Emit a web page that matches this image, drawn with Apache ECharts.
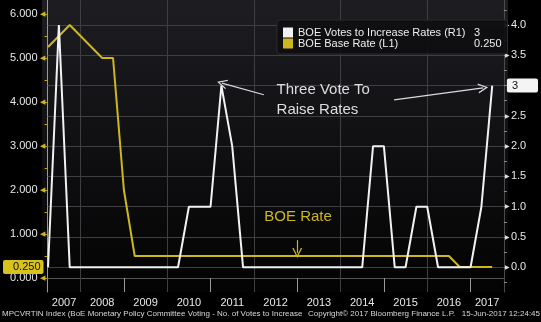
<!DOCTYPE html>
<html><head><meta charset="utf-8">
<script src="https://cdn.jsdelivr.net/npm/echarts@6/dist/echarts.min.js"></script>
<style>html,body{margin:0;padding:0;background:#000}#c{width:541px;height:322px}</style>
</head><body><div id="c"></div>
<script>
// ---- data (quarterly observations) ----
const quarterDates = [
  '2007-04-01','2007-07-01','2007-10-01',
  '2008-01-01','2008-04-01','2008-07-01','2008-10-01',
  '2009-01-01','2009-04-01','2009-07-01','2009-10-01',
  '2010-01-01','2010-04-01','2010-07-01','2010-10-01',
  '2011-01-01','2011-04-01','2011-07-01','2011-10-01',
  '2012-01-01','2012-04-01','2012-07-01','2012-10-01',
  '2013-01-01','2013-04-01','2013-07-01','2013-10-01',
  '2014-01-01','2014-04-01','2014-07-01','2014-10-01',
  '2015-01-01','2015-04-01','2015-07-01','2015-10-01',
  '2016-01-01','2016-04-01','2016-07-01','2016-10-01',
  '2017-01-01','2017-04-01','2017-07-01'
];
const votesToIncrease = [
  0,4,0,
  0,0,0,0,
  0,0,0,0,
  0,0,1,1,
  1,3,2,0,
  0,0,0,0,
  0,0,0,0,
  0,0,0,2,
  2,0,0,1,
  1,0,0,0,
  0,1,3
];
const baseRate = [
  5.25,5.5,5.75,
  5.5,5.25,5.0,5.0,
  2.0,0.5,0.5,0.5,
  0.5,0.5,0.5,0.5,
  0.5,0.5,0.5,0.5,
  0.5,0.5,0.5,0.5,
  0.5,0.5,0.5,0.5,
  0.5,0.5,0.5,0.5,
  0.5,0.5,0.5,0.5,
  0.5,0.5,0.5,0.25,
  0.25,0.25,0.25
];
const yearLabels = [2007,2008,2009,2010,2011,2012,2013,2014,2015,2016,2017];
const gridYears = [2008,2010,2012,2014,2016];
const leftLabels = [0,1,2,3,4,5,6];
const leftMinorTicks = [0,0.5,1,1.5,2,2.5,3,3.5,4,4.5,5,5.5,6];
const rightLabels = [0,0.5,1,1.5,2,2.5,3,3.5,4];
const rightMinorTicks = [-0.25,0,0.25,0.5,0.75,1,1.25,1.5,1.75,2,2.25,2.5,2.75,3,3.25,3.5,3.75,4,4.25];
const seriesNames = ['BOE Votes to Increase Rates (R1)', 'BOE Base Rate (L1)'];

// ---- helpers ----
const toYear = s => { const p = s.split('-').map(Number); return p[0] + (p[1]-1)/12; };
const X_MIN = 2007.238, X_MAX = 2017.769;
const L_MIN = -0.318, L_MAX = 6.318;
const R_MIN = -0.408, R_MAX = 4.413;
const EPS = 0.002;
const latestVotes = votesToIncrease[votesToIncrease.length-1];
const latestRate = baseRate[baseRate.length-1];
const yearCenters = yearLabels.map(y => (Math.max(y, X_MIN) + Math.min(y+1, X_MAX)) / 2);
const boundaries = yearLabels.filter(y => y > X_MIN && y < X_MAX);

const FONT = 'Liberation Sans, Arial, sans-serif';
const YEL = '#cdb71c';
const WHITE = '#f2f2f2';
const GRIDC = '#3e3e43';
const chevron = 'path://M0,10 L5,0 L10,10 L8.6,10 L5,2.6 L1.4,10 Z';
const GRID = {left: 42, right: 33, top: 0, bottom: 30};

const gridStyle = {color: GRIDC, width: 1, type: 'solid'};
const arrowStyle = {color: '#dcdcdc', width: 1.2, type: 'solid'};
const gridLineItems = rightLabels.map(v => [
  {coord: [X_MIN + EPS, v], lineStyle: gridStyle}, {coord: [X_MAX - EPS, v], lineStyle: gridStyle}
]).concat(gridYears.map(y => [
  {coord: [y, R_MIN + EPS], lineStyle: gridStyle}, {coord: [y, R_MAX - EPS], lineStyle: gridStyle}
]));
const arrowItems = [
  [{coord: [2012.229, 2.848], lineStyle: arrowStyle}, {coord: [2011.262, 3.04], symbol: chevron, symbolSize: 10, lineStyle: arrowStyle}],
  [{coord: [2015.236, 2.765], lineStyle: arrowStyle}, {coord: [2017.292, 2.963], symbol: chevron, symbolSize: 10, lineStyle: arrowStyle}]
];

const chart = echarts.init(document.getElementById('c'), null, {renderer: 'canvas'});
chart.setOption({
  backgroundColor: '#000',
  animation: false,
  textStyle: {fontFamily: FONT},
  grid: Object.assign({show: false}, GRID),
  legend: {
    left: 277, top: 20, orient: 'vertical',
    padding: [7, 6, 5, 6], itemGap: 0, itemWidth: 10, itemHeight: 10,
    icon: 'rect', backgroundColor: 'rgba(14,14,16,0.92)', borderColor: '#2c2c2c', borderWidth: 1, borderRadius: 3,
    data: seriesNames,
    formatter: name => '{n|' + name + '}{v|' + (name === seriesNames[0] ? String(latestVotes) : latestRate.toFixed(3)) + '}',
    textStyle: {
      color: '#eee', fontSize: 11, fontFamily: FONT,
      rich: {
        n: {width: 176, color: '#eee', fontSize: 11, fontFamily: FONT},
        v: {width: 27, color: '#eee', fontSize: 11, fontFamily: FONT}
      }
    },
    selectedMode: false
  },
  xAxis: [{
    type: 'value', min: X_MIN, max: X_MAX, position: 'bottom',
    axisLine: {show: true, lineStyle: {color: '#555', width: 1}},
    axisTick: {show: true, customValues: boundaries, length: 14, lineStyle: {color: '#9a9a9a'}},
    axisLabel: {customValues: yearCenters, formatter: v => String(Math.floor(v)), color: '#e8e8e8', fontSize: 11, margin: 5, fontFamily: FONT},
    splitLine: {show: false}
  }],
  yAxis: [{
    type: 'value', min: L_MIN, max: L_MAX, position: 'left',
    axisLine: {show: true, lineStyle: {color: '#b8a41a', width: 1}},
    axisTick: {show: true, customValues: leftMinorTicks, length: 3, inside: false, lineStyle: {color: '#b8a41a'}},
    axisLabel: {
      customValues: leftLabels, margin: 3, color: '#e8e8e8', fontSize: 11, fontFamily: FONT,
      formatter: v => '{v|' + v.toFixed(3) + '}{t|◀}',
      rich: {v: {color: '#e8e8e8', fontSize: 11, fontFamily: FONT, padding: [0, 2, 0, 0]}, t: {color: YEL, fontSize: 7}}
    },
    splitLine: {show: false}
  }, {
    type: 'value', min: R_MIN, max: R_MAX, position: 'right',
    axisLine: {show: true, lineStyle: {color: '#4a4a4a', width: 1}},
    axisTick: {show: true, customValues: rightMinorTicks, length: 3, lineStyle: {color: '#8a8a8a'}},
    axisLabel: {
      customValues: rightLabels.filter(v => v !== latestVotes), margin: 1, color: '#e8e8e8', fontSize: 11, fontFamily: FONT,
      formatter: v => '{t|▶}{v|' + v.toFixed(1) + '}',
      rich: {v: {color: '#e8e8e8', fontSize: 11, fontFamily: FONT, padding: [0, 0, 0, 1]}, t: {color: '#ddd', fontSize: 6}}
    },
    splitLine: {show: false}
  }, {
    type: 'value', min: L_MIN, max: L_MAX, position: 'left', z: 10,
    axisLine: {show: false}, axisTick: {show: false}, splitLine: {show: false},
    axisLabel: {
      customValues: [latestRate], margin: 4, formatter: v => v.toFixed(3),
      color: '#111', backgroundColor: '#d8c21e', padding: [2, 3, 1, 10], fontSize: 11, fontFamily: FONT, borderRadius: 2
    }
  }, {
    type: 'value', min: R_MIN, max: R_MAX, position: 'right', z: 10,
    axisLine: {show: false}, axisTick: {show: false}, splitLine: {show: false},
    axisLabel: {
      customValues: [latestVotes], margin: 3, formatter: v => String(v),
      color: '#111', backgroundColor: '#f4f4f4', padding: [2, 20, 1, 5], fontSize: 11, fontFamily: FONT, borderRadius: 2
    }
  }],
  series: [{
    name: seriesNames[1], type: 'line', xAxisIndex: 0, yAxisIndex: 0, z: 2,
    data: quarterDates.map((d, i) => [toYear(d), baseRate[i]]),
    color: YEL, showSymbol: false, symbol: 'none',
    lineStyle: {color: YEL, width: 2},
    markLine: {
      silent: true, animation: false, symbol: ['none', chevron], symbolSize: 10,
      label: {show: false}, lineStyle: {color: YEL, width: 1.2, type: 'solid'},
      data: [[{coord: [2013.0, 0.86]}, {coord: [2013.0, 0.57]}]]
    },
    markPoint: {
      silent: true, animation: false,
      data: [{coord: [2013.02, 1.386], symbol: 'rect', symbolSize: 0,
        label: {show: true, position: 'inside', formatter: 'BOE Rate', color: YEL, fontSize: 15, fontFamily: FONT}}]
    }
  }, {
    name: seriesNames[0], type: 'line', xAxisIndex: 0, yAxisIndex: 1, z: 3,
    data: quarterDates.map((d, i) => [toYear(d), votesToIncrease[i]]),
    color: WHITE, showSymbol: false, symbol: 'none',
    lineStyle: {color: WHITE, width: 2},
    markLine: {
      silent: true, animation: false, symbol: ['none', 'none'], z: 1,
      label: {show: false}, emphasis: {disabled: true},
      data: gridLineItems.concat(arrowItems)
    },
    markPoint: {
      silent: true, animation: false,
      data: [{coord: [2012.523, 2.765], symbol: 'rect', symbolSize: 0,
        label: {show: true, position: 'right', distance: 0, formatter: 'Three Vote To\nRaise Rates', color: '#dedede', fontSize: 15, lineHeight: 20, fontFamily: FONT}}]
    }
  }],
  graphic: [
    {type: 'rect', z: -100, silent: true,
      shape: {x: GRID.left, y: GRID.top, width: 541 - GRID.left - GRID.right, height: 322 - GRID.top - GRID.bottom},
      style: {fill: new echarts.graphic.LinearGradient(0, 0, 0, 1, [
        {offset: 0, color: '#1d1d22'}, {offset: 1, color: '#030303'}
      ])}},
    {type: 'text', left: 2, top: 310, style: {text: 'MPCVRTIN Index (BoE Monetary Policy Committee Voting - No. of Votes to Increase', fill: '#d8d8d8', fontSize: 8, fontFamily: FONT}},
    {type: 'text', left: 308, top: 310, style: {text: 'Copyright\u00a9 2017 Bloomberg Finance L.P.', fill: '#d8d8d8', fontSize: 8, fontFamily: FONT}},
    {type: 'text', right: 1, top: 310, style: {text: '15-Jun-2017 12:24:45', fill: '#d8d8d8', fontSize: 8, fontFamily: FONT}}
  ]
});
</script></body></html>
